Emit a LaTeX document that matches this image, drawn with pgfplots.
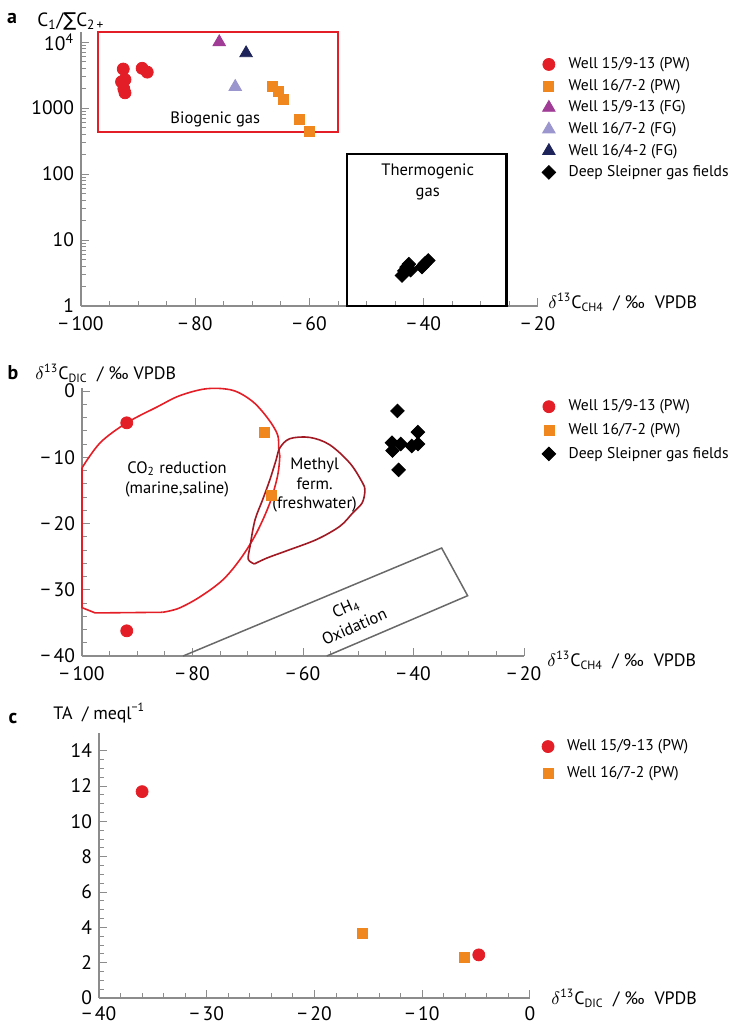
\documentclass[border=0pt]{standalone}
\usepackage{fontspec}
\setmainfont{PT Sans}
\newfontfamily\dejavu{DejaVu Sans}
\usepackage{pgfplots}
\pgfplotsset{compat=1.18}
\definecolor{myred}{RGB}{228,30,38}
\definecolor{myorange}{RGB}{240,134,30}
\definecolor{mypurple}{RGB}{160,60,150}
\definecolor{mylilac}{RGB}{155,150,205}
\definecolor{mynavy}{RGB}{30,35,90}
\definecolor{mydarkred}{RGB}{160,25,35}
\definecolor{axgray}{RGB}{140,140,140}
\definecolor{boxgray}{RGB}{105,105,105}
\pgfplotsset{
  myax/.style={
    scale only axis, anchor=south west,
    /pgf/number format/assume math mode=true,
    axis lines=left, axis line style={draw=axgray, line width=0.6bp, -},
    tick align=inside, major tick length=4bp, minor tick length=2.4bp,
    every tick/.style={draw=axgray, line width=0.5bp},
    tick label style={font=\fontsize{9.8}{11}\selectfont},
    xticklabel style={yshift=-1.6bp},
    legend cell align=left,
    legend image code/.code={\draw[mark repeat=2,mark phase=2,##1] plot coordinates {(-1bp,0bp) (0bp,0bp) (1bp,0bp)};},
    legend style={draw=none, fill=none, inner sep=0pt, outer sep=0pt, anchor=north west,
      font=\fontsize{7.8}{9.5}\selectfont, column sep=6bp,
      nodes={inner sep=0.5bp, text height=6bp, text depth=1.8bp}},
  },
  circ/.style={only marks, mark=*, mark size=3bp, mark options={draw=myred, fill=myred}},
  sq/.style={only marks, mark=square*, mark size=2.5bp, mark options={draw=myorange, fill=myorange}},
  dia/.style={only marks, mark=square*, mark size=2.4bp, mark options={draw=black, fill=black, rotate=45}},
}
\begin{document}
\begin{tikzpicture}
\path[use as bounding box] (0,0) rectangle (367.5bp,-512bp);

% ---------------- panel a
\begin{axis}[myax, at={(40.5bp,-153bp)}, width=228.5bp, height=136.8bp,
  xmin=-100, xmax=-20, ymode=log, ymin=1, ymax=14000,
  xtick={-100,-80,-60,-40,-20}, xticklabels={−\,100,−\,80,−\,60,−\,40,−\,20},
  minor xtick={-95,-90,-85,-75,-70,-65,-55,-50,-45,-35,-30,-25},
  ytick={1,10,100,1000,10000}, yticklabels={1,10,100,1000,10\textsuperscript{4}},
  minor ytick={2,3,4,5,6,7,8,9,20,30,40,50,60,70,80,90,200,300,400,500,600,700,800,900,2000,3000,4000,5000,6000,7000,8000,9000},
  clip=false,
  legend style={at={(axis description cs:1.009,0.915)}, row sep=2bp},
]
\draw[myred, line width=1bp] (axis cs:-97,440) rectangle (axis cs:-55,14000);
\draw[black, line width=1.1bp] (axis cs:-53.5,1) rectangle (axis cs:-25.5,200);
\node[font=\fontsize{8.3}{10.5}\selectfont] at (axis cs:-76.5,680) {Biogenic gas};
\node[font=\fontsize{8.3}{10.5}\selectfont, align=center] at (axis cs:-39.3,76) {Thermogenic\\gas};
\addplot[circ] coordinates {(-92.6,3900) (-92.9,2500) (-92.3,2700) (-92.5,1950) (-92.3,1700) (-89.3,4000) (-88.4,3500)};
\addlegendentry{Well 15/9-13 (PW)}
\addplot[sq] coordinates {(-66.5,2150) (-65.4,1770) (-64.5,1350) (-61.7,675) (-60.1,447)};
\addlegendentry{Well 16/7-2 (PW)}
\addplot[only marks, mark=triangle*, mark size=3.6bp, mark options={draw=mypurple, fill=mypurple}] coordinates {(-75.8,10000)};
\addlegendentry{Well 15/9-13 (FG)}
\addplot[only marks, mark=triangle*, mark size=3.6bp, mark options={draw=mylilac, fill=mylilac}] coordinates {(-73.0,2100)};
\addlegendentry{Well 16/7-2 (FG)}
\addplot[only marks, mark=triangle*, mark size=3.6bp, mark options={draw=mynavy, fill=mynavy}] coordinates {(-71.1,6800)};
\addlegendentry{Well 16/4-2 (FG)}
\addplot[dia] coordinates {(-43.8,2.9) (-43.4,3.4) (-43.0,3.9) (-42.6,4.3) (-42.3,3.5) (-40.3,3.9) (-39.8,4.4) (-39.2,4.9)};
\addlegendentry{Deep Sleipner gas fields}
\end{axis}

% ---------------- panel b
\begin{axis}[myax, at={(41bp,-328bp)}, width=221bp, height=134.15bp,
  xmin=-100, xmax=-20, ymin=-40, ymax=0.5,
  xtick={-100,-80,-60,-40,-20}, xticklabels={−\,100,−\,80,−\,60,−\,40,−\,20},
  minor xtick={-95,-90,-85,-75,-70,-65,-55,-50,-45,-35,-30,-25},
  ytick={-40,-30,-20,-10,0}, yticklabels={−\,40,−\,30,−\,20,−\,10,0},
  minor y tick num=4,
  clip=false,
  legend style={at={(axis description cs:1.041,0.962)}, row sep=3.0bp},
]
\addplot[myred, line width=0.8bp, smooth, tension=0.55, forget plot] coordinates {
 (-100,-11.6) (-96.7,-7.8) (-91.9,-4.8) (-86.4,-2.4) (-82.3,-0.7) (-77.4,0.35) (-72.7,0.1)
 (-69.1,-1.6) (-66.3,-4.2) (-64.6,-6.6) (-64.4,-8.6) (-64.2,-9.8) (-64.6,-12.8) (-66.0,-16.9)
 (-68.4,-21.4) (-71.2,-25.2) (-74.5,-28.5) (-78.7,-31.1) (-82.5,-32.8) (-85.4,-33.4)};
\addplot[myred, line width=0.8bp, forget plot] coordinates {(-85.4,-33.4) (-97.6,-33.5) (-100,-32.7) (-100,-11.6)};
\addplot[mydarkred, line width=0.8bp, smooth, tension=0.55, forget plot] coordinates {
 (-68.8,-26.1) (-66.5,-25.2) (-62.9,-24.1) (-57.5,-22.4) (-53.3,-20.4) (-51.0,-18.4) (-49.3,-16.9)
 (-48.8,-15.1) (-49.2,-13.9) (-51.5,-10.9) (-55.2,-8.1) (-58.8,-7.0) (-62.4,-7.2) (-64.2,-8.6)
 (-64.9,-10.5) (-66.0,-13.4) (-67.3,-16.4) (-68.7,-19.5) (-69.6,-23.5) (-69.9,-25.4) (-68.8,-26.1)};
\addplot[boxgray, line width=0.75bp, forget plot] coordinates {(-81.7,-40) (-34.9,-23.7) (-30.2,-30.9) (-55.7,-40)};
\node[font=\fontsize{8.3}{10}\selectfont, align=center] at (axis cs:-82.8,-13.3) {CO\textsubscript{2} reduction\\(marine,saline)};
\node[font=\fontsize{8.3}{10}\selectfont, align=center] at (axis cs:-57.9,-14.2) {Methyl\\ferm.\\(freshwater)};
\node[font=\fontsize{8.3}{10.5}\selectfont, align=center, rotate=24, inner sep=0pt] at (axis cs:-51.5,-34.1) {CH\textsubscript{4}\\Oxidation};
\addplot[circ] coordinates {(-91.9,-4.8) (-91.9,-36.2)};
\addlegendentry{Well 15/9-13 (PW)}
\addplot[sq] coordinates {(-66.9,-6.2) (-65.7,-15.7)};
\addlegendentry{Well 16/7-2 (PW)}
\addplot[dia] coordinates {(-42.9,-3.0) (-39.2,-6.2) (-43.9,-7.8) (-42.3,-8.0) (-40.3,-8.3) (-39.2,-8.0) (-43.8,-9.0) (-42.7,-11.9)};
\addlegendentry{Deep Sleipner gas fields}
\end{axis}

% ---------------- panel c
\begin{axis}[myax, at={(49.5bp,-499bp)}, width=215.5bp, height=132.5bp,
  xmin=-40, xmax=0, ymin=0, ymax=15,
  xtick={-40,-30,-20,-10,0}, xticklabels={−\,40,−\,30,−\,20,−\,10,0},
  xticklabel style={yshift=-0.9bp, text depth=0pt, inner ysep=1.5bp},
  minor x tick num=4,
  ytick={0,2,4,6,8,10,12,14}, minor y tick num=3,
  clip=false,
  legend style={at={(axis description cs:1.028,0.982)}, row sep=4.5bp},
]
\addplot[circ] coordinates {(-36.0,11.68) (-4.75,2.44)};
\addlegendentry{Well 15/9-13 (PW)}
\addplot[sq] coordinates {(-15.6,3.68) (-6.05,2.32)};
\addlegendentry{Well 16/7-2 (PW)}
\end{axis}

% ---------------- labels
\node[font=\bfseries\fontsize{10}{12}\selectfont] at (6bp,-9bp) {a};
\node[font=\bfseries\fontsize{10}{12}\selectfont] at (6.5bp,-186.5bp) {b};
\node[font=\bfseries\fontsize{10}{12}\selectfont] at (6.5bp,-359.5bp) {c};
\node[anchor=west, inner sep=0pt, font=\fontsize{9.6}{11}\selectfont] at (18.5bp,-10.5bp) {C\textsubscript{1}/{\dejavu ∑}C\textsubscript{2\,+}};
\node[anchor=west, inner sep=0pt, font=\fontsize{9}{11}\selectfont] at (17.5bp,-186.5bp) {$\delta$\textsuperscript{13}C\textsubscript{DIC}\ \ / ‰ VPDB};
\node[anchor=west, inner sep=0pt, font=\fontsize{9}{11}\selectfont] at (26.5bp,-356.5bp) {TA\ \ / meql\textsuperscript{−1}};
\node[anchor=west, inner sep=0pt, font=\fontsize{9}{11}\selectfont] at (274bp,-151bp) {$\delta$\textsuperscript{13}C\textsubscript{CH4}\ \ / ‰ \ VPDB};
\node[anchor=west, inner sep=0pt, font=\fontsize{9}{11}\selectfont] at (273.5bp,-330bp) {$\delta$\textsuperscript{13}C\textsubscript{CH4}\ \ / ‰ \ VPDB};
\node[anchor=west, inner sep=0pt, font=\fontsize{9}{11}\selectfont] at (275.5bp,-499bp) {$\delta$\textsuperscript{13}C\textsubscript{DIC}\ \ / ‰ \ VPDB};
\end{tikzpicture}
\end{document}
